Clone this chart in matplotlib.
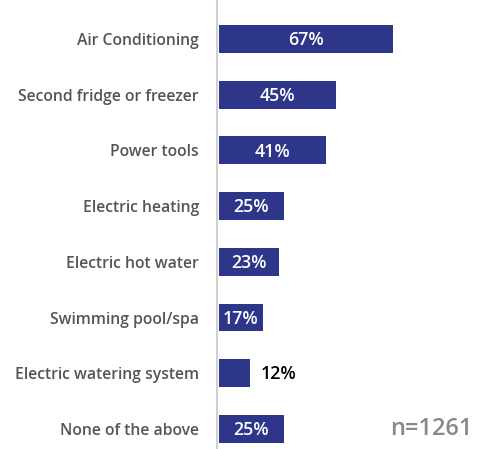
import matplotlib.pyplot as plt

categories = ["Air Conditioning", "Second fridge or freezer", "Power tools",
              "Electric heating", "Electric hot water", "Swimming pool/spa",
              "Electric watering system", "None of the above"]
values = [67, 45, 41, 25, 23, 17, 12, 25]
value_labels = ["67%", "45%", "41%", "25%", "23%", "17%", "12%", "25%"]
note = "n=1261"

plt.rcParams['font.family'] = ['Open Sans', 'DejaVu Sans']

fig = plt.figure(figsize=(4.8, 4.49), dpi=100)
ax = fig.add_axes([217/480, 0, 1 - 217/480, 1])

n = len(categories)
ys = list(range(n))
bar_color = "#2E368A"
ax.barh(ys, values, height=0.5, color=bar_color, left=0.7)
ax.set_ylim(n - 1 + 0.36, -0.7)
ax.set_xlim(0, 101)

for y, v, lab in zip(ys, values, value_labels):
    if v >= 15:
        ax.text(0.7 + v / 2, y + 0.02, lab, ha='center', va='center', color='white',
                fontsize=12.8, fontweight='semibold')
    else:
        ax.text(0.7 + v + 4, y + 0.02, lab, ha='left', va='center', color='black',
                fontsize=12.8, fontweight='semibold')

ax.set_yticks(ys)
ax.set_yticklabels(categories, fontsize=11.3, fontweight='semibold', color='#555555')
ax.tick_params(axis='y', length=0, pad=13)
ax.set_xticks([])
for s in ['top', 'right', 'bottom']:
    ax.spines[s].set_visible(False)
ax.spines['left'].set_color('#D0D0D0')
ax.spines['left'].set_linewidth(1.5)

ax.text(98, n - 1, note, ha='right', va='center', fontsize=17,
        fontweight='semibold', color='#888888')

fig.savefig("out.png", dpi=100)
